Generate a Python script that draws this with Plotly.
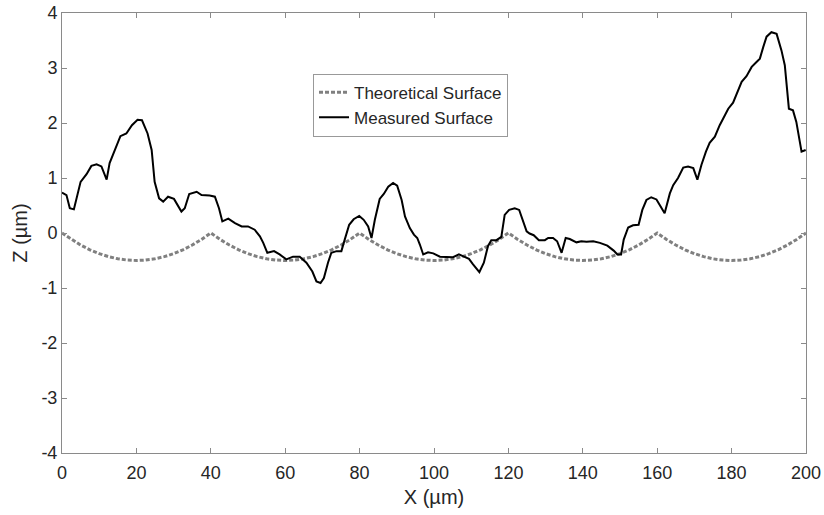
import plotly.graph_objects as go

# Measured surface profile
meas_x = [0, 1.2, 2.1, 3.2, 5.0, 6.6, 7.9, 9.3, 10.6, 12.0,
          12.8, 14.2, 15.7, 17.3, 18.8, 20.3, 21.5, 23.0, 24.1, 24.9,
          26.1, 27.2, 28.5, 30.1, 32.1, 33.0, 34.2, 36.2, 37.5, 39.7,
          41.1, 42.2, 43.1, 44.7, 46.5, 48.3, 50.0, 51.8, 53.2, 54.1,
          55.2, 57.0, 58.5, 60.3, 62.1, 63.9, 65.7, 67.3, 68.4, 69.5,
          70.4, 71.5, 72.4, 73.8, 75.1, 76.0, 77.2, 78.4, 79.9, 81.1,
          82.3, 83.2, 84.1, 85.4, 86.5, 87.7, 89.0, 90.1, 91.3, 92.2,
          93.5, 94.6, 95.5, 96.2, 97.1, 98.4, 99.8, 101.6, 103.4, 105.1,
          106.7, 108.0, 109.4, 110.5, 112.2, 113.4, 114.5, 115.4, 116.8, 118.1,
          119.0, 120.2, 121.7, 122.9, 123.8, 124.9, 125.7, 126.8, 128.2, 129.8,
          130.7, 132.0, 133.1, 134.3, 135.4, 136.5, 138.3, 139.6, 141.0, 142.8,
          144.6, 146.6, 148.3, 149.3, 150.3, 151.0, 152.2, 153.5, 155.0, 156.0,
          157.1, 158.4, 159.8, 161.1, 162.0, 163.4, 164.3, 165.6, 167.0, 168.3,
          169.7, 170.8, 171.9, 173.1, 174.1, 175.5, 176.8, 178.2, 179.1, 180.4,
          181.5, 182.7, 184.0, 185.4, 186.7, 187.6, 188.5, 189.4, 190.7, 192.1,
          193.4, 194.3, 195.4, 196.5, 197.4, 198.8, 199.9]
meas_z = [0.735, 0.69, 0.45, 0.43, 0.93, 1.07, 1.22, 1.25, 1.21, 0.97,
          1.27, 1.51, 1.76, 1.81, 1.96, 2.06, 2.05, 1.81, 1.51, 0.93,
          0.63, 0.57, 0.66, 0.62, 0.39, 0.45, 0.71, 0.75, 0.69, 0.68,
          0.66, 0.45, 0.21, 0.26, 0.18, 0.12, 0.12, 0.06, -0.06, -0.18,
          -0.36, -0.33, -0.39, -0.48, -0.43, -0.43, -0.54, -0.70, -0.88, -0.91,
          -0.82, -0.54, -0.36, -0.33, -0.33, -0.12, 0.15, 0.25, 0.31, 0.24,
          0.12, -0.09, 0.24, 0.62, 0.71, 0.84, 0.91, 0.86, 0.60, 0.30,
          0.09, -0.03, -0.09, -0.21, -0.39, -0.35, -0.37, -0.43, -0.44, -0.44,
          -0.39, -0.43, -0.47, -0.57, -0.71, -0.54, -0.24, -0.13, -0.13, -0.07,
          0.33, 0.42, 0.45, 0.42, 0.24, 0.03, -0.01, -0.04, -0.13, -0.13,
          -0.09, -0.09, -0.15, -0.36, -0.09, -0.11, -0.17, -0.15, -0.16, -0.15,
          -0.18, -0.23, -0.32, -0.39, -0.39, -0.12, 0.10, 0.14, 0.15, 0.42,
          0.60, 0.65, 0.61, 0.45, 0.36, 0.72, 0.87, 1.00, 1.19, 1.21,
          1.18, 0.97, 1.24, 1.48, 1.64, 1.75, 1.96, 2.14, 2.26, 2.37,
          2.54, 2.75, 2.85, 3.02, 3.11, 3.17, 3.38, 3.57, 3.65, 3.62,
          3.32, 3.05, 2.26, 2.23, 2.02, 1.48, 1.51]

# Theoretical surface
theo_x = [0, 2.5, 5, 7.5, 10, 12.5, 15, 17.5, 20, 22.5, 25, 27.5, 30, 32.5, 35, 37.5,
          40, 42.5, 45, 47.5, 50, 52.5, 55, 57.5, 60, 62.5, 65, 67.5, 70, 72.5, 75, 77.5,
          80, 82.5, 85, 87.5, 90, 92.5, 95, 97.5, 100, 102.5, 105, 107.5, 110, 112.5, 115, 117.5,
          120, 122.5, 125, 127.5, 130, 132.5, 135, 137.5, 140, 142.5, 145, 147.5, 150, 152.5, 155, 157.5,
          160, 162.5, 165, 167.5, 170, 172.5, 175, 177.5, 180, 182.5, 185, 187.5, 190, 192.5, 195, 197.5,
          200]
theo_z = [0, -0.117, -0.219, -0.305, -0.375, -0.430, -0.469, -0.492, -0.5, -0.492, -0.469, -0.430, -0.375, -0.305, -0.219, -0.117,
          0, -0.117, -0.219, -0.305, -0.375, -0.430, -0.469, -0.492, -0.5, -0.492, -0.469, -0.430, -0.375, -0.305, -0.219, -0.117,
          0, -0.117, -0.219, -0.305, -0.375, -0.430, -0.469, -0.492, -0.5, -0.492, -0.469, -0.430, -0.375, -0.305, -0.219, -0.117,
          0, -0.117, -0.219, -0.305, -0.375, -0.430, -0.469, -0.492, -0.5, -0.492, -0.469, -0.430, -0.375, -0.305, -0.219, -0.117,
          0, -0.117, -0.219, -0.305, -0.375, -0.430, -0.469, -0.492, -0.5, -0.492, -0.469, -0.430, -0.375, -0.305, -0.219, -0.117,
          0]

x_ticks = [0, 20, 40, 60, 80, 100, 120, 140, 160, 180, 200]
x_ticktext = ["0", "20", "40", "60", "80", "100", "120", "140", "160", "180", "200"]
y_ticks = [-4, -3, -2, -1, 0, 1, 2, 3, 4]
y_ticktext = ["-4", "-3", "-2", "-1", "0", "1", "2", "3", "4"]

FONT = "Liberation Sans, Arial, sans-serif"
AX_COLOR = "#8a8a8a"
TXT = "#262626"

fig = go.Figure()
fig.add_trace(go.Scatter(x=theo_x, y=theo_z, mode="lines", name="Theoretical Surface",
                         line=dict(color="#808080", width=3, dash="4px,2px")))
fig.add_trace(go.Scatter(x=meas_x, y=meas_z, mode="lines", name="Measured Surface",
                         line=dict(color="black", width=2)))

axis_common = dict(showline=True, linecolor=AX_COLOR, linewidth=1, mirror="ticks",
                   ticks="inside", ticklen=5, tickcolor=AX_COLOR, showgrid=False,
                   zeroline=False, automargin=False,
                   tickfont=dict(size=18, color=TXT, family=FONT))

fig.update_layout(
    width=824, height=515,
    margin=dict(l=62, r=18, t=13, b=62),
    paper_bgcolor="white", plot_bgcolor="white",
    font=dict(family=FONT, color=TXT),
    xaxis=dict(range=[0, 200], tickvals=x_ticks, ticktext=x_ticktext, ticklabelstandoff=3,
               title=dict(text="X (µm)", font=dict(size=20, color=TXT), standoff=8), **axis_common),
    yaxis=dict(range=[-4, 4], tickvals=y_ticks, ticktext=y_ticktext,
               title=dict(text="Z (µm)", font=dict(size=20, color=TXT), standoff=8), **axis_common),
    legend=dict(x=0.3374, y=0.862, xanchor="left", yanchor="top",
                bgcolor="white", bordercolor="#999999", borderwidth=1,
                font=dict(size=17, color=TXT), tracegroupgap=0),
    showlegend=True,
)

fig.write_html("out.html")
